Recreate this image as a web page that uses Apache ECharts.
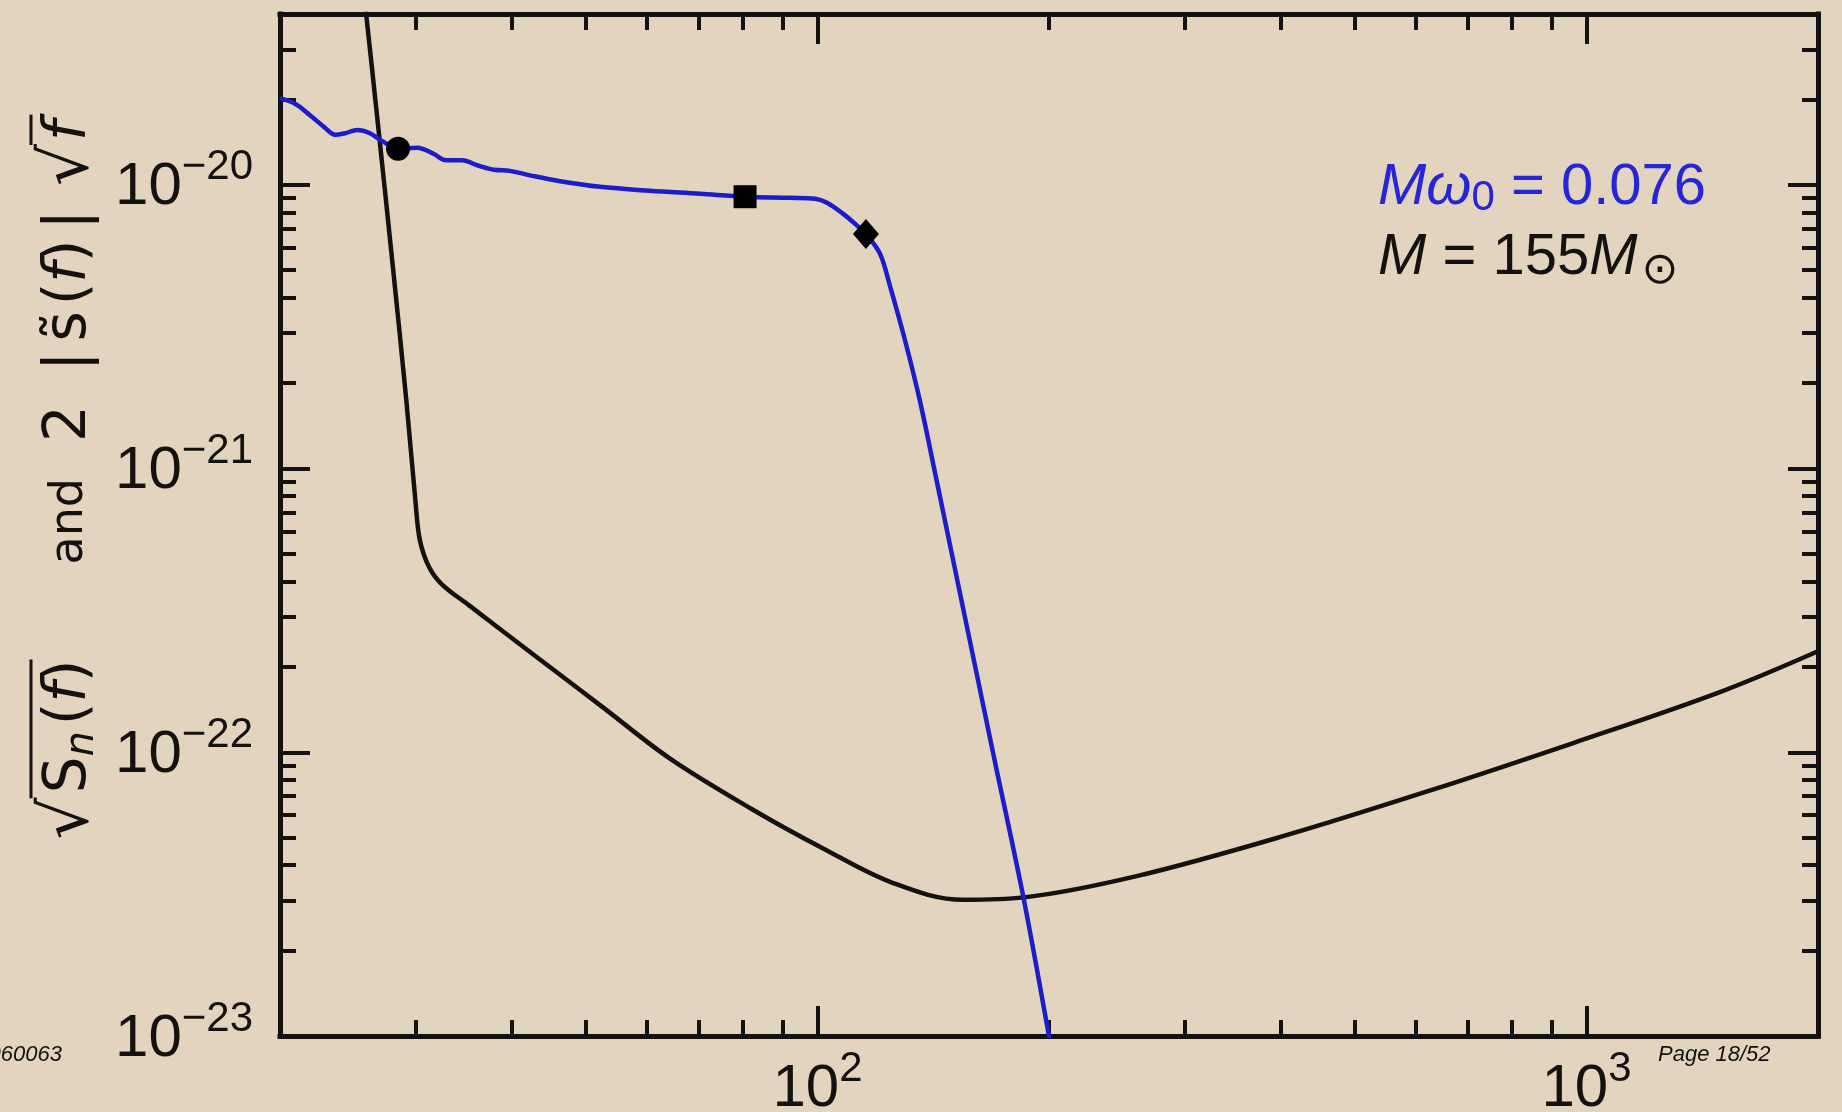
<!DOCTYPE html>
<html>
<head>
<meta charset="utf-8">
<title>Noise curve and ringdown spectrum</title>
<script src="https://cdn.jsdelivr.net/npm/echarts@6/dist/echarts.min.js"></script>
<style>
  html, body { margin: 0; padding: 0; background: #e2d4be; }
  #main { width: 1842px; height: 1112px; }
</style>
</head>
<body>
<div id="main"></div>
<script>
// black curve: detector noise sqrt(Sn(f))
var noiseFreq = [25.4, 25.9, 26.9, 28.05, 29.2, 30.0, 30.4, 31.25, 32.5, 35.2, 43, 52.6, 64.3, 82.2, 101.4, 125.4, 154.6, 185.6, 260, 403, 622, 963, 1491, 2000];
var noiseAmp = [6.3e-20, 3.94e-20, 1.51e-20, 5.1e-21, 1.73e-21, 7.7e-22, 5.6e-22, 4.5e-22, 3.9e-22, 3.3e-22, 2.18e-22, 1.44e-22, 9.5e-23, 6.3e-23, 4.6e-23, 3.46e-23, 3.02e-23, 3.08e-23, 3.66e-23, 5.06e-23, 7.29e-23, 1.08e-22, 1.63e-22, 2.27e-22];

// blue curve: 2|s(f)|sqrt(f)
var signalFreq = [20.0, 20.92, 21.88, 22.88, 23.59, 24.3, 25.19, 26.18, 27.23, 28.48, 30.15, 31.62, 32.88, 34.49, 36.18, 37.96, 39.82, 42.28, 46.26, 52.15, 60.55, 70.35, 80.5, 92.1, 99.3, 102.9, 108.0, 112.6, 115.6, 120.6, 124.2, 130.0, 135.9, 141.8, 169.1, 185.6, 200, 203];
var signalAmp = [2.02e-20, 1.93e-20, 1.76e-20, 1.59e-20, 1.50e-20, 1.52e-20, 1.56e-20, 1.52e-20, 1.42e-20, 1.34e-20, 1.35e-20, 1.29e-20, 1.22e-20, 1.22e-20, 1.17e-20, 1.13e-20, 1.12e-20, 1.08e-20, 1.03e-20, 9.84e-21, 9.53e-21, 9.30e-21, 9.08e-21, 9.0e-21, 8.93e-21, 8.65e-21, 7.9e-21, 7.18e-21, 6.71e-21, 5.71e-21, 4.41e-21, 2.82e-21, 1.73e-21, 1.0e-21, 1.0e-22, 3.0e-23, 1.0e-23, 8e-24];

var markerFreq = [28.48, 80.5, 115.6];
var markerAmp = [1.34e-20, 9.08e-21, 6.71e-21];
var markerSymbol = ['circle', 'rect', 'diamond'];
var markerSize = [24, 23, [26, 30]];

var xRange = [20, 2000];
var yRange = [1e-23, 4e-20];
var xMajor = [100, 1000];
var xMinor = [30, 40, 50, 60, 70, 80, 90, 200, 300, 400, 500, 600, 700, 800, 900];
var yMajor = [1e-23, 1e-22, 1e-21, 1e-20];
var yMinor = [2e-23, 3e-23, 4e-23, 5e-23, 6e-23, 7e-23, 8e-23, 9e-23,
              2e-22, 3e-22, 4e-22, 5e-22, 6e-22, 7e-22, 8e-22, 9e-22,
              2e-21, 3e-21, 4e-21, 5e-21, 6e-21, 7e-21, 8e-21, 9e-21,
              2e-20, 3e-20];

var lg = function (v) { return Math.log10(v); };
var ink = '#141210';
var blue = '#1c1cc8';
var textBlue = '#2626d8';
var numFont = "'Liberation Sans', Arial, sans-serif";

function pairs(xs, ys) {
  return xs.map(function (x, i) { return [lg(x), lg(ys[i])]; });
}

var labelRich = {
  b: { fontSize: 60, fontFamily: numFont, color: ink, padding: [6, 0, 0, 0] },
  s: { fontSize: 42, fontFamily: numFont, color: ink, padding: [0, 0, 34, 0] }
};

function axis(pos, range, values, major) {
  var a = {
    type: 'value',
    position: pos,
    min: lg(range[0]),
    max: lg(range[1]),
    splitLine: { show: false },
    axisLine: { show: major, onZero: false, lineStyle: { color: ink, width: 5, cap: 'square' } },
    axisTick: {
      show: true, inside: true, length: major ? 30 : 16,
      customValues: values.map(lg),
      lineStyle: { color: ink, width: 4 }
    },
    axisLabel: { show: false }
  };
  if (major && (pos === 'bottom' || pos === 'left')) {
    a.axisLabel = {
      show: true,
      customValues: values.map(lg),
      margin: pos === 'bottom' ? 12 : 27,
      formatter: function (v) {
        var e = Math.round(v);
        return '{b|10}{s|' + (e < 0 ? '\u2212' + (-e) : e) + '}';
      },
      rich: labelRich
    };
  }
  return a;
}

// y axis title: measured pieces so the radical bars can be drawn over them
var ctx = document.createElement('canvas').getContext('2d');
var tFont = 'DejaVu Sans';
var tSize = 58;
var titleParts = [
  { t: '\u221A', size: 66 },
  { gap: 4, over: 1 },
  { t: 'S', over: 1 },
  { t: 'n', size: 40, style: 'italic', sub: true, over: 1 },
  { gap: 6, over: 1 },
  { t: '(', over: 1 },
  { t: 'f', style: 'italic', over: 1 },
  { t: ')', over: 1 },
  { gap: 95 },
  { t: 'and', size: 46 },
  { gap: 36 },
  { t: '2' },
  { gap: 34 },
  { t: '|' },
  { gap: 10 },
  { t: 's\u0303' },
  { gap: 6 },
  { t: '(' },
  { t: 'f', style: 'italic' },
  { t: ')' },
  { gap: 10 },
  { t: '|' },
  { gap: 24 },
  { t: '\u221A', size: 66 },
  { gap: 3, over: 2 },
  { t: 'f', style: 'italic', over: 2 },
  { gap: 6, over: 2 }
];

function buildTitle() {
  var rich = {};
  var str = '';
  var pos = 0;
  var bars = {};
  titleParts.forEach(function (p, i) {
    var size = p.size || tSize;
    var style = p.style || 'normal';
    var w;
    if (p.gap) {
      w = p.gap;
      rich['p' + i] = { width: w, fontSize: tSize, fontFamily: tFont };
      str += '{p' + i + '| }';
    } else {
      ctx.font = style + ' ' + size + 'px ' + tFont;
      w = ctx.measureText(p.t).width;
      rich['p' + i] = {
        fontSize: size, fontStyle: style, fontFamily: tFont, fill: ink,
        padding: p.sub ? [26, 0, 0, 0] : [0, 0, 0, 0]
      };
      str += '{p' + i + '|' + p.t + '}';
    }
    if (p.over) {
      if (!bars[p.over]) bars[p.over] = [pos, pos + w];
      bars[p.over][1] = pos + w;
    }
    pos += w;
  });
  var half = pos / 2;
  var children = [{
    type: 'text', x: -half, y: 0,
    style: { text: str, rich: rich, align: 'left', verticalAlign: 'middle' }
  }];
  Object.keys(bars).forEach(function (k) {
    children.push({
      type: 'line',
      shape: { x1: bars[k][0] - half - 1, y1: -39, x2: bars[k][1] - half, y2: -39 },
      style: { stroke: ink, lineWidth: 3 }
    });
  });
  return { type: 'group', x: 70, y: 477, rotation: Math.PI / 2, children: children };
}

var chart = echarts.init(document.getElementById('main'));
chart.setOption({
  animation: false,
  backgroundColor: '#e2d4be',
  grid: { left: 280, top: 14, right: 24, bottom: 76, containLabel: false, outerBoundsMode: 'none' },
  xAxis: [
    axis('bottom', xRange, xMajor, true),
    axis('bottom', xRange, xMinor, false),
    axis('top', xRange, xMajor, true),
    axis('top', xRange, xMinor, false)
  ],
  yAxis: [
    axis('left', yRange, yMajor, true),
    axis('left', yRange, yMinor, false),
    axis('right', yRange, yMajor, true),
    axis('right', yRange, yMinor, false)
  ],
  series: [
    {
      name: 'noise', type: 'line', xAxisIndex: 0, yAxisIndex: 0,
      data: pairs(noiseFreq, noiseAmp),
      showSymbol: false, smooth: 0.35,
      lineStyle: { color: ink, width: 4.5 }, z: 3
    },
    {
      name: 'signal', type: 'line', xAxisIndex: 0, yAxisIndex: 0,
      data: pairs(signalFreq, signalAmp),
      showSymbol: false, smooth: 0.35,
      lineStyle: { color: blue, width: 4.5 }, z: 4
    },
    {
      name: 'markers', type: 'scatter', xAxisIndex: 0, yAxisIndex: 0,
      data: markerFreq.map(function (f, i) {
        return { value: [lg(f), lg(markerAmp[i])], symbol: markerSymbol[i], symbolSize: markerSize[i] };
      }),
      itemStyle: { color: '#000', opacity: 1 }, z: 5
    }
  ],
  graphic: [
    buildTitle(),
    {
      type: 'text', x: 1378, y: 188,
      style: {
        text: '{i|M\u03C9}{sub|0}{r| = 0.076}', align: 'left', verticalAlign: 'middle',
        rich: {
          i: { fontSize: 58, fontStyle: 'italic', fontFamily: numFont, fill: textBlue },
          sub: { fontSize: 42, fontFamily: numFont, fill: textBlue, padding: [20, 0, 0, 0] },
          r: { fontSize: 58, fontFamily: numFont, fill: textBlue }
        }
      }
    },
    {
      type: 'text', x: 1378, y: 258,
      style: {
        text: '{i|M}{r| = 155}{i|M}{sub|\u2299}', align: 'left', verticalAlign: 'middle',
        rich: {
          i: { fontSize: 58, fontStyle: 'italic', fontFamily: numFont, fill: ink },
          sub: { fontSize: 44, fontFamily: 'DejaVu Sans', fill: ink, padding: [28, 0, 0, 4] },
          r: { fontSize: 58, fontFamily: numFont, fill: ink }
        }
      }
    },
    {
      type: 'text', x: 62, y: 1055,
      style: { text: '060063', align: 'right', verticalAlign: 'middle', fontSize: 22, fontStyle: 'italic', fontFamily: numFont, fill: '#111' }
    },
    {
      type: 'text', x: 1658, y: 1055,
      style: { text: 'Page 18/52', align: 'left', verticalAlign: 'middle', fontSize: 22, fontStyle: 'italic', fontFamily: numFont, fill: '#111' }
    }
  ]
});
</script>
</body>
</html>
